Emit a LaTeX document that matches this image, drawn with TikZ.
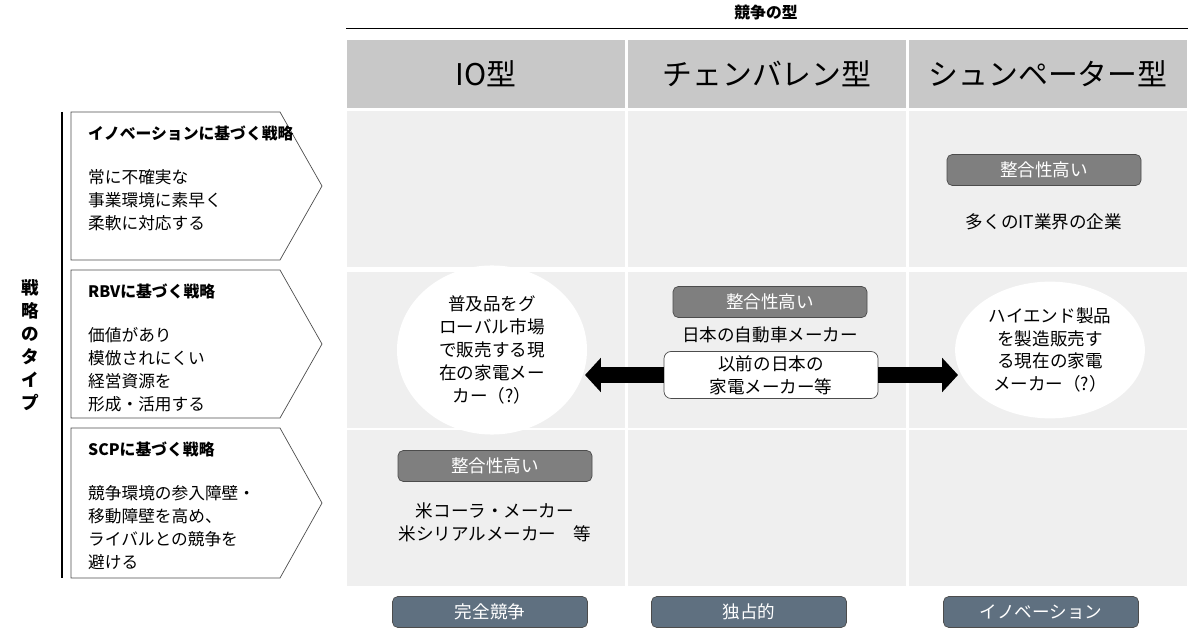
\documentclass[tikz,border=0pt]{standalone}
\usepackage{fontspec}
\setmainfont{Noto Sans CJK JP}
\usepackage{tikz}
\usetikzlibrary{arrows.meta, shapes.geometric, positioning, calc}
\definecolor{headgray}{HTML}{C8C8C8}
\definecolor{cellgray}{HTML}{EFEFEF}
\definecolor{tagbg}{HTML}{7F7F7F}
\definecolor{tabbg}{HTML}{5F7080}
\begin{document}
\begin{tikzpicture}[x=0.02cm, y=-0.02cm,
    head/.style = {fill=headgray, minimum width=278*0.02cm, minimum height=68*0.02cm,
                   font=\fontsize{17}{20}\selectfont, inner sep=0pt},
    cell/.style = {fill=cellgray, minimum width=278*0.02cm, minimum height=156*0.02cm, inner sep=0pt},
    tag/.style  = {draw=black!70, fill=tagbg, rounded corners=3pt, text=white,
                   minimum width=194*0.02cm, minimum height=31*0.02cm,
                   font=\fontsize{10}{12}\selectfont, inner sep=0pt},
    tab/.style  = {draw=black!70, fill=tabbg, rounded corners=3pt, text=white,
                   minimum width=195*0.02cm, minimum height=31*0.02cm,
                   font=\fontsize{10}{12}\selectfont, inner sep=0pt},
    txt/.style  = {align=center, font=\fontsize{10}{13}\selectfont},
    oval/.style = {ellipse, fill=white, align=center, font=\fontsize{10}{13}\selectfont},
    side/.style = {anchor=north west, align=left, font=\fontsize{9.5}{13}\selectfont},
    bigarr/.style = {line width=9pt, -{Triangle[length=9pt, width=19pt]}}
  ]
  \useasboundingbox (0,0) rectangle (1200,634);

  % ---- header ----
  \node[font=\bfseries\fontsize{9}{11}\selectfont] (title) at (766,13) {競争の型};
  \draw (346,28) -- (1188,28);
  \node[head] (hio)  at (486,74)  {IO型};
  \node[head] (hch)  at (767,74)  {チェンバレン型};
  \node[head] (hsc)  at (1048,74) {シュンペーター型};

  % ---- grid cells ----
  \foreach \c/\x in {a/486, b/767, c/1048}
    \foreach \r/\y in {1/189, 2/350, 3/508}
      \node[cell] (cell\c\r) at (\x,\y) {};

  % ---- left side: strategy types ----
  \draw[line width=1pt] (62,112) -- (62,578);
  \node[font=\bfseries\fontsize{10}{13}\selectfont, align=center] (ylab) at (30,345)
    {戦\\略\\の\\タ\\イ\\プ};
  \foreach \n/\t/\b in {p1/112/260, p2/270/418, p3/428/578}
    \draw[draw=black!70] (71,\t) -- (280,\t) -- (322,{(\t+\b)/2}) -- (280,\b) -- (71,\b) -- cycle;

  \node[side] (s1) at (82,120)
    {{\bfseries\fontsize{9}{12}\selectfont イノベーションに基づく戦略}\\[12pt]常に不確実な\\事業環境に素早く\\柔軟に対応する};
  \node[side] (s2) at (82,278)
    {{\bfseries\fontsize{9}{12}\selectfont RBVに基づく戦略}\\[12pt]価値があり\\模倣されにくい\\経営資源を\\形成・活用する};
  \node[side] (s3) at (82,436)
    {{\bfseries\fontsize{9}{12}\selectfont SCPに基づく戦略}\\[12pt]競争環境の参入障壁・\\移動障壁を高め、\\ライバルとの競争を\\避ける};

  % ---- cell contents ----
  \node[tag] (t1) at (1044,170) {整合性高い};
  \node[txt] (it) at (1044,222) {多くのIT業界の企業};

  \node[tag] (t2) at (770,302) {整合性高い};
  \node[txt] (car) at (770,335) {日本の自動車メーカー};
  \node[draw=black!70, fill=white, rounded corners=4pt, minimum width=214*0.02cm,
        minimum height=47*0.02cm, txt, inner sep=0pt] (old) at (771,375)
    {以前の日本の\\家電メーカー等};

  \node[oval, minimum width=190*0.02cm, minimum height=130*0.02cm] (glob) at (492,350)
    {普及品をグ\\ローバル市場\\で販売する現\\在の家電メー\\カー（?）};
  \node[oval, minimum width=180*0.02cm, minimum height=130*0.02cm] (high) at (1050,350)
    {ハイエンド製品\\を製造販売す\\る現在の家電\\メーカー（?）};

  \draw[bigarr] (old.west) -- (585,375);
  \draw[bigarr] (old.east) -- (958,375);

  \node[tag] (t3) at (495,466) {整合性高い};
  \node[txt] (us) at (495,522) {米コーラ・メーカー\\米シリアルメーカー　等};

  % ---- bottom tabs ----
  \node[tab] (b1) at (490,612)  {完全競争};
  \node[tab] (b2) at (749,612)  {独占的};
  \node[tab] (b3) at (1041,612) {イノベーション};
\end{tikzpicture}
\end{document}
